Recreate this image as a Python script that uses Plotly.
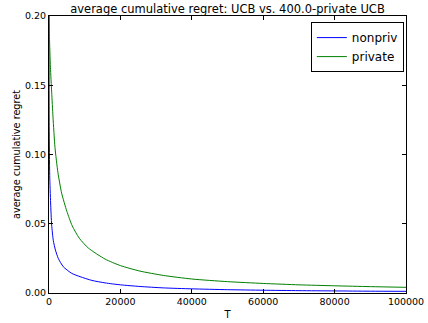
import plotly.graph_objects as go

T_nonpriv = [0, 60, 200, 450, 750, 1200, 1800, 2600, 4000, 6350, 8700, 12000, 15700,
             20000, 25500, 32000, 40000, 50000, 60000, 70000, 80000, 90000, 100000]
nonpriv = [0.2, 0.12, 0.085, 0.065, 0.049, 0.038, 0.031, 0.025, 0.019, 0.0142, 0.0118,
           0.0091, 0.0073, 0.0059, 0.0047, 0.0037, 0.0030, 0.0024, 0.0020, 0.0017,
           0.0015, 0.0013, 0.0012]

T_private = [0, 120, 400, 750, 1120, 1680, 2500, 3550, 5000, 6500, 8500, 11000, 15700,
             20000, 25500, 32000, 40000, 50000, 60000, 70000, 80000, 90000, 100000]
private = [0.2, 0.185, 0.163, 0.145, 0.127, 0.105, 0.087, 0.072, 0.059, 0.0485, 0.0395,
           0.0325, 0.0245, 0.0198, 0.0158, 0.0127, 0.0101, 0.0082, 0.0069, 0.0059, 0.0052,
           0.0046, 0.0041]

x_ticks = [0, 20000, 40000, 60000, 80000, 100000]
y_ticks = [0.00, 0.05, 0.10, 0.15, 0.20]

FONT = "DejaVu Sans"

fig = go.Figure()
fig.add_trace(go.Scatter(x=T_nonpriv, y=nonpriv, mode="lines", name="nonpriv",
                         line=dict(color="#0000ff", width=1, shape="spline", smoothing=0.6)))
fig.add_trace(go.Scatter(x=T_private, y=private, mode="lines", name="private",
                         line=dict(color="#008000", width=1, shape="spline", smoothing=0.6)))

axis_common = dict(showgrid=False, zeroline=False, showline=True, linecolor="black",
                   linewidth=1, mirror="ticks", ticks="inside", ticklen=4, tickwidth=1,
                   tickcolor="black", automargin=False,
                   tickfont=dict(family=FONT, size=9.5, color="black"))

fig.update_layout(
    width=428, height=323,
    margin=dict(l=49, r=22, t=16, b=30),
    paper_bgcolor="white", plot_bgcolor="white",
    font=dict(family=FONT, color="black"),
    title=dict(text="average cumulative regret: UCB vs. 400.0-private UCB",
               x=(49 + 406) / 2 / 428, xanchor="center", y=1 - 9 / 323, yanchor="middle",
               font=dict(family=FONT, size=11.5, color="black")),
    xaxis=dict(range=[0, 100000], tickvals=x_ticks, ticktext=[str(v) for v in x_ticks],
               title=dict(text="T", font=dict(family=FONT, size=10), standoff=4),
               **axis_common),
    yaxis=dict(range=[0, 0.2], tickvals=y_ticks, ticktext=[f"{v:.2f}" for v in y_ticks],
               title=dict(text="average cumulative regret", font=dict(family=FONT, size=9.7),
                          standoff=2),
               **axis_common),
    legend=dict(x=0.994, xanchor="right", y=0.978, yanchor="top",
                bordercolor="black", borderwidth=1, bgcolor="white",
                font=dict(family=FONT, size=12, color="black"),
                tracegroupgap=0, itemwidth=30),
    showlegend=True,
)

fig.write_html("out.html")
